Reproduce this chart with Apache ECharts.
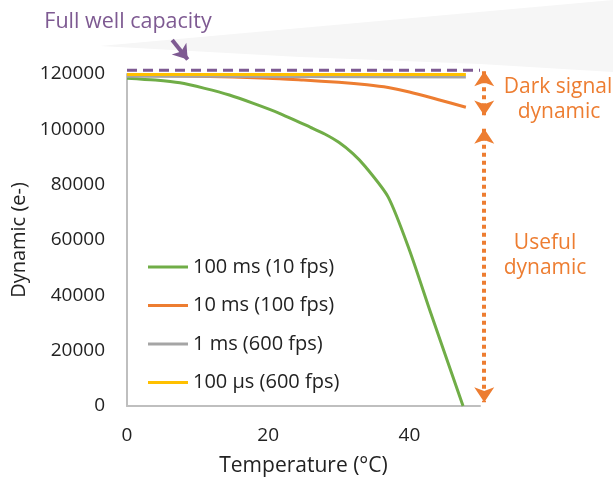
<!DOCTYPE html>
<html>
<head>
<meta charset="utf-8">
<script src="https://cdn.jsdelivr.net/npm/echarts@6/dist/echarts.min.js"></script>
<style>html,body{margin:0;padding:0;background:#fff}#c{width:613px;height:483px}</style>
</head>
<body>
<div id="c"></div>
<script>
// Data
var seriesNames = ['100 ms (10 fps)', '10 ms (100 fps)', '1 ms (600 fps)', '100 \u00b5s (600 fps)'];
var green = [[0,118500],[4,117800],[7.5,116800],[11,114800],[14.5,112400],[18,109300],[21.5,105900],[26,100700],[28,98300],[30,95300],[32,91200],[33.8,86400],[37,75500],[40,56400],[43,33800],[47.6,0]];
var orange = [[0,119500],[10,119200],[20,118500],[25,117800],[30,117000],[34,116100],[37,115100],[40,113500],[44,110800],[48,108000]];
var grey = [[0,119200],[24,119100],[48,118900]];
var yellow = [[0,119800],[24,119800],[48,119800]];
var fullWell = [[0,121400],[50,121400]];
var darkSignalArrow = [[50.6,121000],[50.6,105000]];
var usefulArrow = [[50.6,100200],[50.6,1400]];
var fullWellPointer = [[6.4,132300],[8.6,125200]];
var xTicks = [0, 20, 40];
var yTicks = [0, 20000, 40000, 60000, 80000, 100000, 120000];

var FONT = 'Open Sans';
var colors = ['#70ad47', '#ed7d31', '#a5a5a5', '#ffc000'];
var purple = '#7e5a92';
var orangeTxt = '#ed7d31';

var chart = echarts.init(document.getElementById('c'));
function lineSeries(name, data, color) {
  return { name: name, type: 'line', data: data, smooth: 0.25, showSymbol: false, symbol: 'none',
    lineStyle: { color: color, width: 3 }, itemStyle: { color: color }, clip: false, z: 3 };
}
function txt(s, x, y, color, size) {
  return { type: 'text', x: x, y: y, style: { text: s, fill: color, fontSize: size, fontFamily: FONT, align: 'center', verticalAlign: 'middle' } };
}
chart.setOption({
  animation: false,
  textStyle: { fontFamily: FONT },
  grid: { left: 127, right: 133, top: 74, bottom: 77 },
  xAxis: {
    type: 'value', min: 0, max: 50, interval: 20,
    name: 'Temperature (\u00b0C)', nameLocation: 'middle', nameGap: 50,
    nameTextStyle: { fontSize: 21, color: '#222', fontFamily: FONT },
    axisLine: { lineStyle: { color: '#bfbfbf', width: 2 } },
    axisTick: { show: false }, splitLine: { show: false },
    axisLabel: { fontSize: 19, color: '#222', margin: 20, fontFamily: FONT,
      formatter: function (v) { return xTicks.indexOf(v) >= 0 ? String(v) : ''; } }
  },
  yAxis: {
    type: 'value', min: 0, max: 120000, interval: 20000,
    name: 'Dynamic (e-)', nameLocation: 'middle', nameGap: 92,
    nameTextStyle: { fontSize: 20, color: '#222', fontFamily: FONT },
    axisLine: { show: true, lineStyle: { color: '#bfbfbf', width: 2 } },
    axisTick: { show: false }, splitLine: { show: false },
    axisLabel: { fontSize: 19, color: '#222', margin: 22, fontFamily: FONT,
      formatter: function (v) { return yTicks.indexOf(v) >= 0 ? String(v) : ''; } }
  },
  legend: {
    data: seriesNames, orient: 'vertical', left: 148, top: 257, padding: 0,
    icon: 'rect', itemWidth: 40, itemHeight: 3, itemGap: 18.5,
    textStyle: { fontSize: 20, color: '#222', lineHeight: 20, fontFamily: FONT }
  },
  graphic: [
    { type: 'polygon', z: -10, shape: { points: [[100,46],[613,0],[613,72],[480,64],[300,57]] }, style: { fill: '#f6f6f6' }, silent: true },
    txt('Full well capacity', 128, 22, purple, 21.5),
    txt('Dark signal', 558, 87, orangeTxt, 21),
    txt('dynamic', 559, 112, orangeTxt, 21),
    txt('Useful', 545, 243, orangeTxt, 21),
    txt('dynamic', 545, 268, orangeTxt, 21)
  ],
  series: [
    lineSeries(seriesNames[0], green, colors[0]),
    lineSeries(seriesNames[1], orange, colors[1]),
    lineSeries(seriesNames[2], grey, colors[2]),
    lineSeries(seriesNames[3], yellow, colors[3]),
    { name: 'Full well', type: 'line', data: fullWell, symbol: 'none', clip: false, z: 4,
      lineStyle: { color: purple, width: 3, type: [10, 6] } },
    { name: 'arrows', type: 'lines', coordinateSystem: 'cartesian2d', clip: false, z: 4,
      symbol: ['arrow', 'arrow'], symbolSize: 15,
      lineStyle: { color: orangeTxt, width: 4, type: [4, 4], opacity: 1 },
      data: [{ coords: darkSignalArrow }, { coords: usefulArrow }] },
    { name: 'pointer', type: 'lines', coordinateSystem: 'cartesian2d', clip: false, z: 4,
      symbol: ['none', 'arrow'], symbolSize: 14,
      lineStyle: { color: purple, width: 4, opacity: 1 },
      data: [{ coords: fullWellPointer }] }
  ]
});
</script>
</body>
</html>
